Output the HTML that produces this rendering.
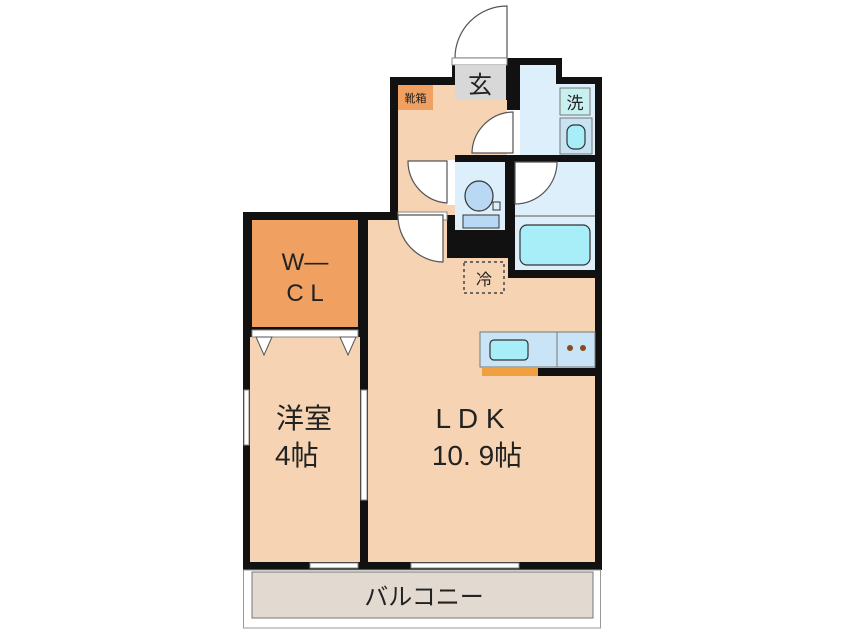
<!DOCTYPE html>
<html><head><meta charset="utf-8"><style>
html,body{margin:0;padding:0;background:#fff;width:846px;height:634px;overflow:hidden}
text{font-family:"Liberation Sans","Noto Sans CJK JP",sans-serif}
</style></head><body>
<svg width="846" height="634" viewBox="0 0 846 634" xmlns="http://www.w3.org/2000/svg">
<!-- entrance door -->
<path d="M455,58 A52,52 0 0 1 507,6 L507,58 Z" fill="#fff" stroke="#555" stroke-width="1.2"/>
<!-- outer wall mass -->
<polygon points="243,212 390,212 390,77 452,77 452,58 562,58 562,77 602,77 602,570 243,570" fill="#111"/>
<!-- threshold -->
<rect x="452" y="58" width="55" height="7" fill="#fff" stroke="#888" stroke-width="1"/>
<!-- genkan -->
<rect x="455" y="65" width="51" height="35" fill="#d8d8d8"/>
<text x="480" y="93" font-size="24" text-anchor="middle" fill="#222">玄</text>
<!-- hall -->
<rect x="398" y="85" width="57" height="130" fill="#f5d3b3"/>
<rect x="398" y="100" width="109" height="55" fill="#f5d3b3"/>
<rect x="398" y="85" width="35" height="25" fill="#f0a060"/>
<text x="415.5" y="102" font-size="11" text-anchor="middle" fill="#222">靴箱</text>
<!-- washroom -->
<rect x="520" y="65" width="36" height="90" fill="#dceffa"/>
<rect x="556" y="84" width="39" height="71" fill="#dceffa"/>
<rect x="560" y="88" width="30" height="27" fill="#c8f0f0" stroke="#777" stroke-width="1"/>
<text x="575" y="109" font-size="17" text-anchor="middle" fill="#222">洗</text>
<rect x="560" y="118" width="32" height="36" fill="#c8e4f4" stroke="#777" stroke-width="1"/>
<rect x="567" y="125" width="18" height="24" rx="7" fill="#a8eef8" stroke="#333" stroke-width="1.2"/>
<!-- wash door opening -->
<rect x="507" y="110" width="13" height="45" fill="#fff"/>
<path d="M513,112 A42,42 0 0 0 472,153 L513,153 Z" fill="#fff" stroke="#555" stroke-width="1.2"/>
<!-- toilet -->
<rect x="455" y="162" width="50" height="68" fill="#dceffa"/>
<ellipse cx="479" cy="196" rx="14" ry="15" fill="#b8d8f4" stroke="#333" stroke-width="1.2"/>
<rect x="493" y="202" width="7" height="8" fill="#dceffa" stroke="#333" stroke-width="1"/>
<rect x="463" y="215" width="36" height="13" fill="#b8d8f4" stroke="#333" stroke-width="1"/>
<rect x="447" y="160" width="8" height="45" fill="#fff"/>
<path d="M408,161 L447,161 L447,203 A42,42 0 0 1 408,161 Z" fill="#fff" stroke="#555" stroke-width="1.2"/>
<!-- bathroom -->
<rect x="515" y="162" width="80" height="108" fill="#dceffa"/>
<line x1="515" y1="216" x2="595" y2="216" stroke="#888" stroke-width="1.5"/>
<rect x="520" y="225" width="70" height="40" rx="7" fill="#a8eef8" stroke="#333" stroke-width="1.2"/>
<path d="M515,162 L557,162 A42,42 0 0 1 515,204 Z" fill="#fff" stroke="#555" stroke-width="1.2"/>
<!-- LDK -->
<polygon points="368,220 447,220 447,258 508,258 508,278 595,278 595,562 368,562" fill="#f5d3b3"/>
<rect x="398" y="212" width="49" height="8" fill="#fff" stroke="#888" stroke-width="1"/>
<path d="M398,215 L443,215 L443,262 A46,46 0 0 1 398,215 Z" fill="#fff" stroke="#555" stroke-width="1.2"/>
<!-- fridge -->
<rect x="464" y="262" width="40" height="31" fill="none" stroke="#444" stroke-width="1.5" stroke-dasharray="3,3"/>
<text x="484" y="285" font-size="16" text-anchor="middle" fill="#222">冷</text>
<!-- kitchen -->
<rect x="480" y="332" width="77" height="35" fill="#c8e4f6" stroke="#777" stroke-width="1"/>
<rect x="490" y="340" width="38" height="20" rx="4" fill="#a8eef8" stroke="#333" stroke-width="1.2"/>
<rect x="557" y="332" width="38" height="35" fill="#c8e4f6" stroke="#777" stroke-width="1"/>
<circle cx="570" cy="348" r="3" fill="#8a4a20"/><circle cx="583" cy="348" r="3" fill="#8a4a20"/>
<rect x="482" y="368" width="56" height="8" fill="#f0a040"/>
<rect x="538" y="368" width="57" height="8" fill="#111"/>
<!-- WCL -->
<rect x="252" y="220" width="106" height="107" fill="#f0a060"/>
<text x="305" y="270" font-size="24" text-anchor="middle" fill="#222">W—</text>
<text x="305" y="301" font-size="24" text-anchor="middle" fill="#222">C L</text>
<!-- western room -->
<rect x="250" y="337" width="110" height="225" fill="#f5d3b3"/>
<rect x="252" y="330" width="106" height="7" fill="#fff" stroke="#888" stroke-width="1"/>
<polygon points="256,337 272,337 264,355" fill="#fff" stroke="#555" stroke-width="1"/>
<polygon points="340,337 356,337 348,355" fill="#fff" stroke="#555" stroke-width="1"/>
<text x="276" y="428" font-size="28" fill="#222">洋室</text>
<text x="275" y="465" font-size="28" fill="#222">4帖</text>
<text x="470" y="428" font-size="28" text-anchor="middle" fill="#222">L D K</text>
<text x="477" y="465" font-size="28" text-anchor="middle" fill="#222">10. 9帖</text>
<!-- windows -->
<rect x="244" y="390" width="5" height="55" fill="#fff" stroke="#888" stroke-width="1"/>
<rect x="361" y="390" width="6" height="110" fill="#fff" stroke="#888" stroke-width="1"/>
<rect x="310" y="563" width="48" height="5" fill="#fff" stroke="#888" stroke-width="1"/>
<rect x="411" y="563" width="108" height="5" fill="#fff" stroke="#888" stroke-width="1"/>
<!-- balcony -->
<rect x="243.5" y="570" width="357" height="58" fill="#fff" stroke="#999" stroke-width="1"/>
<rect x="252" y="572" width="341" height="46" fill="#e2d9d0" stroke="#777" stroke-width="1"/>
<text x="424" y="605" font-size="24" text-anchor="middle" fill="#222">バルコニー</text>
</svg>
</body></html>
